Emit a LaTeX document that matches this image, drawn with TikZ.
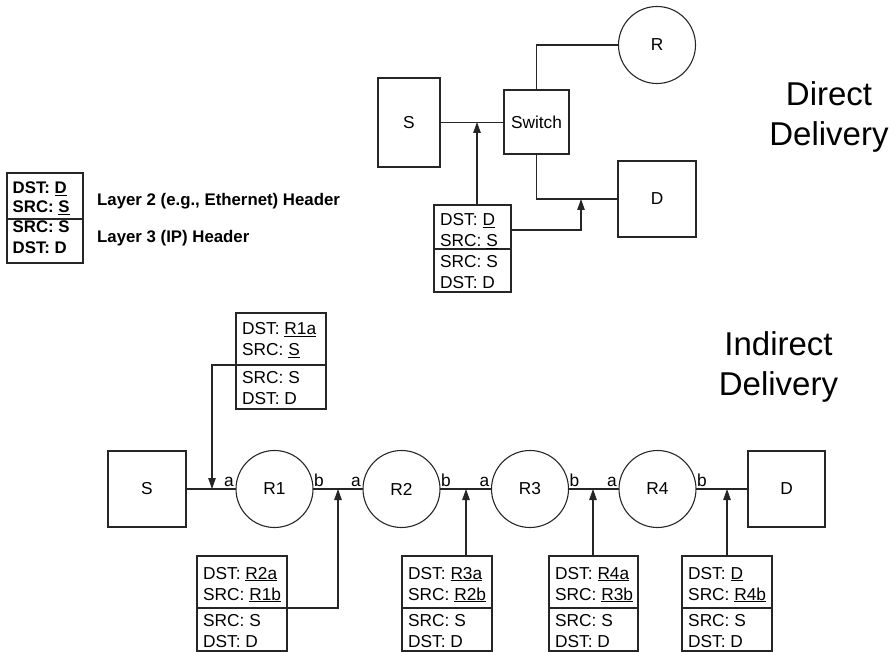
\documentclass[tikz,border=0pt]{standalone}
\usepackage{fontspec}
\setmainfont{Liberation Sans}
\usetikzlibrary{arrows.meta,calc}
\newcommand\hfont{\fontsize{17.3}{20}\selectfont}
\newcommand\lgfont{\bfseries\fontsize{16.8}{20}\selectfont}
\newcommand\ttlfont{\fontsize{33}{40}\selectfont}
\newcommand\ulx[1]{\setbox0\hbox{#1}\rlap{\rule[-2.3pt]{\wd0}{1.1pt}}\box0}
% name, left, top, width, height, divider offset, dst, src, first baseline offset
\newcommand\hdrbox[9]{%
  \node[hdrframe, minimum width=#4pt, minimum height=#5pt, anchor=north west] (#1) at (#2,#3) {};
  \coordinate (#1-dw) at (#2,#3+#6);
  \coordinate (#1-de) at (#2+#4,#3+#6);
  \draw[wire] (#1-dw) -- (#1-de);
  \node[htxt] (#1-t1) at (#2+6,#3+#9) {DST: \ulx{#7}};
  \node[htxt] (#1-t2) at (#2+6,#3+#9+21) {SRC: \ulx{#8}};
  \node[htxt] (#1-t3) at (#2+6,#3+#6+18.5) {SRC: S};
  \node[htxt] (#1-t4) at (#2+6,#3+#6+39.5) {DST: D};
}
\begin{document}
\begin{tikzpicture}[x=1pt,y=-1pt,
  wire/.style={draw=black!85, line width=1.1pt},
  arr/.style={-{Triangle[length=11pt,width=7.5pt]}},
  hdrframe/.style={draw=black!85, line width=1.1pt, inner sep=0pt, outer sep=0pt},
  htxt/.style={anchor=base west, inner sep=0pt, font=\hfont},
  lgtxt/.style={anchor=base west, inner sep=0pt, font=\lgfont},
  shapebox/.style={draw=black!85, line width=1.1pt, inner sep=0pt, outer sep=0pt, font=\hfont},
  router/.style={circle, draw=black!85, line width=1.1pt, minimum size=77pt, inner sep=0pt, outer sep=0pt, font=\hfont},
  lab/.style={anchor=base, inner sep=0pt, font=\hfont},
  ttl/.style={anchor=base, inner sep=0pt, font=\ttlfont}]
\useasboundingbox (0,0) rectangle (896,652);

% ---------- legend ----------
\node[hdrframe, minimum width=76pt, minimum height=90pt, anchor=north west] (leg) at (7,173) {};
\coordinate (leg-dw) at (7,219);
\coordinate (leg-de) at (83,219);
\draw[wire] (leg-dw) -- (leg-de);
\node[lgtxt] (leg-t1) at (12.5,193.5) {DST: \ulx{D}};
\node[lgtxt] (leg-t2) at (12.5,213) {SRC: \ulx{S}};
\node[lgtxt] (leg-t3) at (12.5,232.5) {SRC: S};
\node[lgtxt] (leg-t4) at (12.5,254) {DST: D};
\node[lgtxt] (leg-l2) at (97,206) {Layer 2 (e.g., Ethernet) Header};
\node[lgtxt] (leg-l3) at (97,242.5) {Layer 3 (IP) Header};

% ---------- direct delivery ----------
\node[shapebox, minimum width=62pt, minimum height=89pt] (S1) at (409,122.5) {S};
\node[shapebox, minimum width=65pt, minimum height=64pt] (SW) at (536.5,122) {Switch};
\node[router] (R) at (657,45) {R};
\node[shapebox, minimum width=78pt, minimum height=76pt] (D1) at (657,199) {D};
\hdrbox{hx}{434}{205}{77}{87}{44}{D}{S}{20.5}

\draw[wire] (S1.east) -- (S1.east -| SW.west);
\draw[wire] (SW.north) |- (R.west);
\draw[wire] (SW.south) |- (D1.west);
\coordinate (t1) at (477,122);
\draw[wire,arr] (t1 |- hx.north) -- (t1);
\coordinate (t2) at (581,199);
\coordinate (hxu) at ($(hx.north east)+(0,25)$);
\draw[wire,arr] (hxu) -| (t2);

\node[ttl] (dd1) at (829,106) {Direct};
\node[ttl] (dd2) at (829,146) {Delivery};

% ---------- indirect delivery ----------
\node[ttl] (id1) at (778.5,355) {Indirect};
\node[ttl] (id2) at (778.5,395) {Delivery};

\node[shapebox, minimum width=78pt, minimum height=76pt] (S2) at (147,489) {S};
\node[router] (R1) at (274.5,489) {R1};
\node[router] (R2) at (401.5,489) {R2};
\node[router] (R3) at (530,489) {R3};
\node[router] (R4) at (657.5,489) {R4};
\node[shapebox, minimum width=77pt, minimum height=76pt] (D2) at (786.5,489) {D};
\draw[wire] (S2) -- (R1) -- (R2) -- (R3) -- (R4) -- (D2);

\foreach \r in {R1,R2,R3,R4}{
  \node[lab] (\r-pa) at ($(\r.west)+(-7,-3)$) {a};
  \node[lab] (\r-pb) at ($(\r.east)+(6,-3)$) {b};
}

\hdrbox{ha}{236}{313}{90}{96}{52}{R1a}{S}{21.5}
\hdrbox{hb}{197}{556}{90}{95}{52}{R2a}{R1b}{23}
\hdrbox{hc}{402}{556}{90}{95}{52}{R3a}{R2b}{23}
\hdrbox{hd}{549}{556}{89}{95}{52}{R4a}{R3b}{23}
\hdrbox{he}{682}{556}{90}{95}{52}{D}{R4b}{23}

\coordinate (c1) at (212,489);
\coordinate (c2) at (338,489);
\coordinate (c3) at (466,489);
\coordinate (c4) at (593,489);
\coordinate (c5) at (727,489);
\draw[wire,arr] (ha-dw) -| (c1);
\draw[wire,arr] (hb-de) -| (c2);
\draw[wire,arr] (c3 |- hc.north) -- (c3);
\draw[wire,arr] (c4 |- hd.north) -- (c4);
\draw[wire,arr] (c5 |- he.north) -- (c5);
\end{tikzpicture}
\end{document}
